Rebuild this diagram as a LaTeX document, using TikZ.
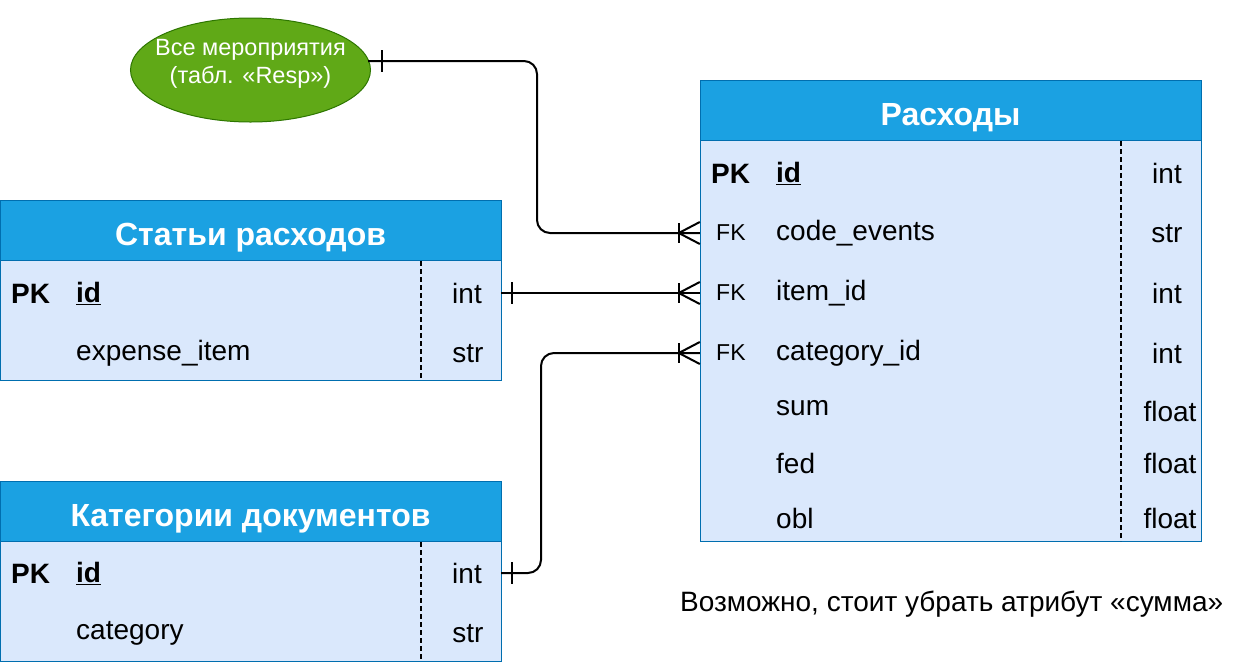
\documentclass[tikz,border=0pt]{standalone}
\usepackage{fontspec}
\setmainfont{Liberation Sans}
\definecolor{hdrfill}{HTML}{1BA1E2}
\definecolor{hdrdraw}{HTML}{006EAF}
\definecolor{bodyfill}{HTML}{DAE8FC}
\definecolor{ellfill}{HTML}{60A917}
\definecolor{elldraw}{HTML}{2D7600}
\usetikzlibrary{calc,shapes.geometric}
\begin{document}
\begin{tikzpicture}[x=1pt,y=-1pt,
  hdr/.style={rectangle, fill=hdrfill, draw=hdrdraw, line width=1pt, minimum width=501pt, minimum height=60pt, inner sep=0pt, text height=29pt, text depth=0pt, text=white, font=\fontsize{32}{36}\selectfont\bfseries},
  tbody/.style={rectangle, fill=bodyfill, draw=hdrdraw, line width=1pt, minimum width=501pt, inner sep=0pt, anchor=north west},
  row/.style={rectangle, minimum width=501pt, minimum height=60pt, inner sep=0pt},
  txt/.style={inner sep=0pt, anchor=west, font=\fontsize{28}{32}\selectfont},
  typ/.style={inner sep=0pt, font=\fontsize{28}{32}\selectfont},
  pk/.style={inner sep=0pt, anchor=west, font=\fontsize{28}{32}\selectfont\bfseries},
  fk/.style={inner sep=0pt, anchor=west, font=\fontsize{23}{26}\selectfont},
  sep/.style={dash pattern=on 5pt off 3pt, line width=1.6pt},
  conn/.style={line width=2pt, rounded corners=13pt},
  endmark/.style={line width=2pt}
]
\useasboundingbox (0,0) rectangle (1242,662);

% ---------- Ellipse ----------
\node[ellipse, fill=ellfill, draw=elldraw, line width=1pt, minimum width=240pt, minimum height=104pt, inner sep=0pt] (ev) at (250.5,70) {};
\node[align=center, inner sep=0pt, text=white, font=\fontsize{23.5}{28}\selectfont] (evt) at (250.5,64) {Все мероприятия\\(табл. «Resp»)};
\coordinate (evout) at (368,61);

% ---------- Table Расходы ----------
\node[tbody, minimum height=401pt] (bR) at (700,140) {};
\node[hdr] (hR) at (950.5,110.5) {Расходы};
\draw[sep] (1121,141) -- (1121,541);
\node[row] (R1) at (950.5,173) {};
\node[row] (R2) at (950.5,233) {};
\node[row] (R3) at (950.5,293) {};
\node[row] (R4) at (950.5,353) {};
\node[pk] (R1k) at (711,173.5) {PK};
\node[txt] (R1n) at (776,173.5) {\textbf{\underline{id}}};
\node[typ] (R1t) at (1167,173.5) {int};
\node[fk] (R2k) at (716,233) {FK};
\node[txt] (R2n) at (776,233.5) {code\_events};
\node[typ] (R2t) at (1167,233.5) {str};
\node[fk] (R3k) at (716,293) {FK};
\node[txt] (R3n) at (776,293.5) {item\_id};
\node[typ] (R3t) at (1167,293.5) {int};
\node[fk] (R4k) at (716,353) {FK};
\node[txt] (R4n) at (776,353.5) {category\_id};
\node[typ] (R4t) at (1167,353.5) {int};
\node[txt] (R5n) at (776,408.5) {sum};
\node[typ] (R5t) at (1170,411.5) {float};
\node[txt] (R6n) at (776,463.5) {fed};
\node[typ] (R6t) at (1170,463.5) {float};
\node[txt] (R7n) at (776,518.5) {obl};
\node[typ] (R7t) at (1170,518.5) {float};

% ---------- Table Статьи расходов ----------
\node[tbody, minimum height=120pt] (bS) at (0,260) {};
\node[hdr] (hS) at (250.5,230.5) {Статьи расходов};
\draw[sep] (421,261) -- (421,380);
\node[row] (S1) at (250.5,293) {};
\node[pk] (S1k) at (11,293.5) {PK};
\node[txt] (S1n) at (76,293.5) {\textbf{\underline{id}}};
\node[typ] (S1t) at (467,293.5) {int};
\node[txt] (S2n) at (76,353.5) {expense\_item};
\node[typ] (S2t) at (468,353.5) {str};

% ---------- Table Категории документов ----------
\node[tbody, minimum height=120pt] (bK) at (0,541) {};
\node[hdr] (hK) at (250.5,511.5) {Категории документов};
\draw[sep] (421,542) -- (421,661);
\node[row] (K1) at (250.5,573) {};
\node[pk] (K1k) at (11,573.5) {PK};
\node[txt] (K1n) at (76,573.5) {\textbf{\underline{id}}};
\node[typ] (K1t) at (467,573.5) {int};
\node[txt] (K2n) at (76,633.5) {category};
\node[typ] (K2t) at (468,633.5) {str};

% ---------- Note ----------
\node[inner sep=0pt, anchor=west, font=\fontsize{28}{32}\selectfont] (note) at (680,604) {Возможно, стоит убрать атрибут «сумма»};

% ---------- Connectors ----------
\coordinate (j1) at (537,150);
\coordinate (j2) at (541,460);
\draw[conn] (evout) -| (j1) |- (R2.west);
\draw[conn] (S1.east) -- (R3.west);
\draw[conn] (K1.east) -| (j2) |- (R4.west);

% one marks
\draw[endmark] ($(evout)+(14,-11)$) -- ($(evout)+(14,11)$);
\draw[endmark] ($(S1.east)+(11,-11)$) -- ($(S1.east)+(11,11)$);
\draw[endmark] ($(K1.east)+(11,-11)$) -- ($(K1.east)+(11,11)$);

% crow's feet (one or many)
\foreach \r in {R2,R3,R4}{
  \draw[endmark] ($(\r.west)+(-21,-10)$) -- ($(\r.west)+(-21,10)$);
  \draw[endmark] ($(\r.west)+(0,-11)$) -- ($(\r.west)+(-21,0)$) -- ($(\r.west)+(0,11)$);
}
\end{tikzpicture}
\end{document}
